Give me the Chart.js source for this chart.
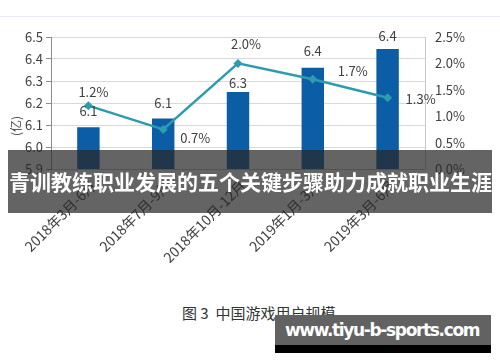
<!DOCTYPE html>
<html><head><meta charset="utf-8">
<script src="https://cdn.jsdelivr.net/npm/chart.js@4"></script>
<style>
html,body{margin:0;padding:0;background:#fff;width:500px;height:362px;overflow:hidden;position:relative;font-family:"Noto Sans CJK SC",sans-serif;}
#topline{position:absolute;left:0;top:16px;width:500px;height:1px;background:#e4ebf3;}
#wrap{position:absolute;left:0;top:0;width:500px;height:300px;}
#unit{position:absolute;left:4px;top:117px;width:24px;height:18px;font-size:12px;color:#404040;transform:rotate(-90deg);transform-origin:center;text-align:center;line-height:18px;}
#banner{position:absolute;left:8px;top:150px;width:484px;height:63px;background:rgba(40,40,40,0.72);}
#banner span{position:absolute;left:1px;top:14px;white-space:nowrap;font-size:21px;font-weight:bold;color:#fff;line-height:34px;letter-spacing:0px;}
#caption{position:absolute;left:182px;top:302px;font-size:15px;color:#333;white-space:nowrap;line-height:22px;}
#wm{position:absolute;left:275px;top:315px;width:216px;height:30px;background:#626262;}
#wm span{position:absolute;left:10px;top:3px;color:#fff;font-family:"DejaVu Sans",sans-serif;font-weight:bold;font-size:17px;letter-spacing:-1.35px;line-height:24px;white-space:nowrap;}
#wmb{position:absolute;left:275px;top:345px;width:216px;height:8px;background:#000;}
</style></head><body>
<div id="topline"></div>
<div id="wrap"><canvas id="c" width="500" height="300"></canvas></div>
<div id="unit">(亿)</div>
<div id="banner"><span>青训教练职业发展的五个关键步骤助力成就职业生涯</span></div>
<div id="caption">图 3&nbsp; 中国游戏用户规模</div>
<div id="wm"><span>www.tiyu-b-sports.com</span></div>
<div id="wmb"></div>
<script>
const categories = ["2018年3月-6月","2018年7月-9月","2018年10月-12月","2019年1月-3月","2019年3月-6月"];
const users = [6.09, 6.13, 6.25, 6.36, 6.445];
const userLabels = ["6.1","6.1","6.3","6.4","6.4"];
const growth = [1.2, 0.75, 2.0, 1.7, 1.35];
const growthLabels = ["1.2%","0.7%","2.0%","1.7%","1.3%"];
const leftTicks = [5.9, 6.0, 6.1, 6.2, 6.3, 6.4, 6.5];
const rightTicks = [0, 0.5, 1.0, 1.5, 2.0, 2.5];

const barOffsets = [-16, -15, -9, -17, -13];
const lineOffsets = [[5,-14],[32,9],[8,-19],[40,-8],[33,1]];

const labelPlugin = {
  id:'labels',
  afterDatasetsDraw(chart){
    const ctx = chart.ctx;
    ctx.save();
    ctx.font = '13px "Noto Sans CJK SC", sans-serif';
    ctx.fillStyle = '#404040';
    ctx.textAlign = 'center';
    ctx.textBaseline = 'middle';
    chart.getDatasetMeta(1).data.forEach((el,i)=>{
      ctx.fillText(userLabels[i], el.x, el.y + barOffsets[i]);
    });
    chart.getDatasetMeta(0).data.forEach((el,i)=>{
      ctx.fillText(growthLabels[i], el.x + lineOffsets[i][0], el.y + lineOffsets[i][1]);
    });
    ctx.restore();
  }
};

new Chart(document.getElementById('c'), {
  data:{
    labels: categories,
    datasets:[
      {type:'line', data:growth, yAxisID:'y2', borderColor:'#2d9caf', backgroundColor:'#2d9caf', borderWidth:2.5,
       pointStyle:'rectRot', pointRadius:4.5, pointBackgroundColor:'#2d9caf', pointBorderWidth:0, tension:0, order:0},
      {type:'bar', data:users, yAxisID:'y', backgroundColor:'#0b5ea6', barPercentage:0.6, categoryPercentage:0.5, order:1}
    ]
  },
  options:{
    responsive:false, animation:false, devicePixelRatio:1,
    layout:{padding:{top:37,left:0,right:0,bottom:0}},
    plugins:{legend:{display:false}, tooltip:{enabled:false}},
    scales:{
      x:{
        grid:{display:false, drawTicks:false},
        border:{display:true,color:'#bfbfbf'},
        ticks:{minRotation:45,maxRotation:45,autoSkip:false,color:'#404040',font:{size:14,family:'"Noto Sans CJK SC", sans-serif'},padding:8,labelOffset:5},
        afterFit(s){ s.height = 131; }
      },
      y:{
        position:'left', min:5.9, max:6.5,
        afterBuildTicks(s){ s.ticks = leftTicks.map(v=>({value:v})); },
        grid:{color:'#d9d9d9', tickLength:5, tickColor:'#8c8c8c'},
        border:{display:true,color:'#8c8c8c'},
        ticks:{color:'#404040',padding:3,font:{size:13,family:'"Noto Sans CJK SC", sans-serif'},callback:v=>v.toFixed(1)},
        afterFit(s){ s.width = 51; }
      },
      y2:{
        position:'right', min:0, max:2.5,
        afterBuildTicks(s){ s.ticks = rightTicks.map(v=>({value:v})); },
        grid:{display:false, drawTicks:false},
        border:{display:true,color:'#c8c8c8'},
        ticks:{color:'#404040',padding:10,font:{size:13,family:'"Noto Sans CJK SC", sans-serif'},callback:v=>v.toFixed(1)+'%'},
        afterFit(s){ s.width = 75; }
      }
    }
  },
  plugins:[labelPlugin]
});
</script>
</body></html>
